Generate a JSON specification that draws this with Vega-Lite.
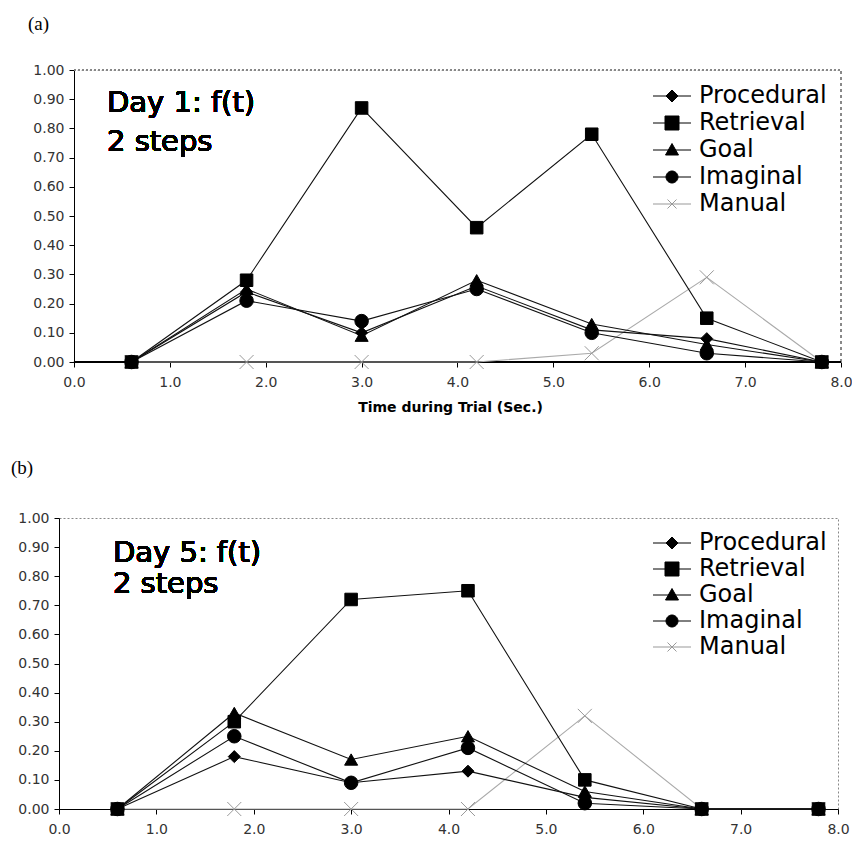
{
  "$schema": "https://vega.github.io/schema/vega-lite/v6.json",
  "padding": {"left": 10, "top": 15, "right": 0, "bottom": 0},
  "background": "white",
  "spacing": 44,
  "config": {
    "font": "DejaVu Sans",
    "view": {"stroke": "#888", "strokeDash": [2, 2], "strokeWidth": 1},
    "axis": {"grid": false, "domainColor": "black", "domainWidth": 1, "tickColor": "black", "tickSize": 5, "labelFont": "DejaVu Sans", "labelFontSize": 14, "labelColor": "#333", "titleFont": "DejaVu Sans", "labelOverlap": false},
    "title": {"font": "Liberation Serif", "fontSize": 19, "fontWeight": "normal", "anchor": "start", "frame": "group", "color": "black"}
  },
  "datasets": {
    "day1": [
      {"t": 0.6, "series": "Manual", "value": 0}, {"t": 1.8, "series": "Manual", "value": 0}, {"t": 3.0, "series": "Manual", "value": 0}, {"t": 4.2, "series": "Manual", "value": 0}, {"t": 5.4, "series": "Manual", "value": 0.03}, {"t": 6.6, "series": "Manual", "value": 0.29}, {"t": 7.8, "series": "Manual", "value": 0},
      {"t": 0.6, "series": "Imaginal", "value": 0}, {"t": 1.8, "series": "Imaginal", "value": 0.21}, {"t": 3.0, "series": "Imaginal", "value": 0.14}, {"t": 4.2, "series": "Imaginal", "value": 0.25}, {"t": 5.4, "series": "Imaginal", "value": 0.10}, {"t": 6.6, "series": "Imaginal", "value": 0.03}, {"t": 7.8, "series": "Imaginal", "value": 0},
      {"t": 0.6, "series": "Goal", "value": 0}, {"t": 1.8, "series": "Goal", "value": 0.25}, {"t": 3.0, "series": "Goal", "value": 0.09}, {"t": 4.2, "series": "Goal", "value": 0.28}, {"t": 5.4, "series": "Goal", "value": 0.13}, {"t": 6.6, "series": "Goal", "value": 0.06}, {"t": 7.8, "series": "Goal", "value": 0},
      {"t": 0.6, "series": "Procedural", "value": 0}, {"t": 1.8, "series": "Procedural", "value": 0.24}, {"t": 3.0, "series": "Procedural", "value": 0.10}, {"t": 4.2, "series": "Procedural", "value": 0.26}, {"t": 5.4, "series": "Procedural", "value": 0.11}, {"t": 6.6, "series": "Procedural", "value": 0.08}, {"t": 7.8, "series": "Procedural", "value": 0},
      {"t": 0.6, "series": "Retrieval", "value": 0}, {"t": 1.8, "series": "Retrieval", "value": 0.28}, {"t": 3.0, "series": "Retrieval", "value": 0.87}, {"t": 4.2, "series": "Retrieval", "value": 0.46}, {"t": 5.4, "series": "Retrieval", "value": 0.78}, {"t": 6.6, "series": "Retrieval", "value": 0.15}, {"t": 7.8, "series": "Retrieval", "value": 0}
    ],
    "day5": [
      {"t": 0.6, "series": "Manual", "value": 0}, {"t": 1.8, "series": "Manual", "value": 0}, {"t": 3.0, "series": "Manual", "value": 0}, {"t": 4.2, "series": "Manual", "value": 0}, {"t": 5.4, "series": "Manual", "value": 0.32}, {"t": 6.6, "series": "Manual", "value": 0}, {"t": 7.8, "series": "Manual", "value": 0},
      {"t": 0.6, "series": "Imaginal", "value": 0}, {"t": 1.8, "series": "Imaginal", "value": 0.25}, {"t": 3.0, "series": "Imaginal", "value": 0.09}, {"t": 4.2, "series": "Imaginal", "value": 0.21}, {"t": 5.4, "series": "Imaginal", "value": 0.02}, {"t": 6.6, "series": "Imaginal", "value": 0}, {"t": 7.8, "series": "Imaginal", "value": 0},
      {"t": 0.6, "series": "Goal", "value": 0}, {"t": 1.8, "series": "Goal", "value": 0.33}, {"t": 3.0, "series": "Goal", "value": 0.17}, {"t": 4.2, "series": "Goal", "value": 0.25}, {"t": 5.4, "series": "Goal", "value": 0.06}, {"t": 6.6, "series": "Goal", "value": 0}, {"t": 7.8, "series": "Goal", "value": 0},
      {"t": 0.6, "series": "Procedural", "value": 0}, {"t": 1.8, "series": "Procedural", "value": 0.18}, {"t": 3.0, "series": "Procedural", "value": 0.09}, {"t": 4.2, "series": "Procedural", "value": 0.13}, {"t": 5.4, "series": "Procedural", "value": 0.04}, {"t": 6.6, "series": "Procedural", "value": 0}, {"t": 7.8, "series": "Procedural", "value": 0},
      {"t": 0.6, "series": "Retrieval", "value": 0}, {"t": 1.8, "series": "Retrieval", "value": 0.30}, {"t": 3.0, "series": "Retrieval", "value": 0.72}, {"t": 4.2, "series": "Retrieval", "value": 0.75}, {"t": 5.4, "series": "Retrieval", "value": 0.10}, {"t": 6.6, "series": "Retrieval", "value": 0}, {"t": 7.8, "series": "Retrieval", "value": 0}
    ]
  },
  "vconcat": [
    {
      "title": {"text": "(a)", "dx": -31, "offset": 29},
      "width": 782,
      "height": 292,
      "view": {"stroke": null},
      "data": {"name": "day1"},
      "resolve": {"scale": {"shape": "independent", "stroke": "independent", "fill": "independent", "size": "independent"}},
      "layer": [
        {
          "mark": {"type": "rule", "stroke": "#888", "strokeDash": [2, 2], "strokeWidth": 1},
          "encoding": {"x": {"datum": 0, "type": "quantitative", "scale": {"domain": [-0.1564, 8], "nice": false, "zero": false}, "axis": {"values": [0, 1, 2, 3, 4, 5, 6, 7, 8], "tickCount": 20, "format": ".1f", "domain": false, "title": "Time during Trial (Sec.)", "titleFontSize": 14, "titleFontWeight": "bold", "titleColor": "black", "titlePadding": 11, "labelPadding": 8, "labelFlush": false, "labelOverlap": false}}, "x2": {"datum": 8}, "y": {"datum": 1, "type": "quantitative", "scale": {"domain": [0, 1], "nice": false}, "axis": {"values": [0, 0.1, 0.2, 0.3, 0.4, 0.5, 0.6, 0.7, 0.8, 0.9, 1], "tickCount": 20, "format": ".2f", "title": null, "offset": -15, "labelPadding": 5, "labelOverlap": false}}}
        },
        {
          "mark": {"type": "rule", "stroke": "#888", "strokeDash": [3, 3], "strokeWidth": 1},
          "encoding": {"x": {"datum": 8, "type": "quantitative"}, "y": {"datum": 0, "type": "quantitative"}, "y2": {"datum": 1}}
        },
        {
          "mark": {"type": "rule", "stroke": "black", "strokeWidth": 1},
          "encoding": {"x": {"datum": 0, "type": "quantitative"}, "x2": {"datum": 8}, "y": {"datum": 0, "type": "quantitative"}}
        },
        {
          "mark": {"type": "line", "strokeWidth": 1.1},
          "encoding": {
            "x": {"field": "t", "type": "quantitative"},
            "y": {"field": "value", "type": "quantitative"},
            "stroke": {"field": "series", "type": "nominal", "scale": {"domain": ["Procedural", "Retrieval", "Goal", "Imaginal", "Manual"], "range": ["#111", "#111", "#111", "#111", "#aaa"]}, "legend": null}
          }
        },
        {
          "mark": {"type": "point", "filled": true, "opacity": 1, "strokeWidth": 1},
          "encoding": {
            "x": {"field": "t", "type": "quantitative"},
            "y": {"field": "value", "type": "quantitative"},
            "shape": {"field": "series", "type": "nominal", "scale": {"domain": ["Procedural", "Retrieval", "Goal", "Imaginal", "Manual"], "range": ["diamond", "square", "triangle-up", "circle", "M-1,-1L1,1M1,-1L-1,1"]}, "legend": null},
            "fill": {"field": "series", "type": "nominal", "scale": {"domain": ["Procedural", "Retrieval", "Goal", "Imaginal", "Manual"], "range": ["#000", "#000", "#000", "#000", "#999"]}, "legend": null},
            "stroke": {"field": "series", "type": "nominal", "scale": {"domain": ["Procedural", "Retrieval", "Goal", "Imaginal", "Manual"], "range": ["#000", "#000", "#000", "#000", "#999"]}, "legend": null},
            "size": {"field": "series", "type": "nominal", "scale": {"domain": ["Procedural", "Retrieval", "Goal", "Imaginal", "Manual"], "range": [144, 196, 144, 144, 100]}, "legend": null}
          }
        },
        {
          "mark": {"type": "text", "text": "Day 1: f(t)", "align": "left", "baseline": "alphabetic", "fontSize": 29, "font": "DejaVu Sans", "color": "black"},
          "encoding": {"x": {"datum": 0.344, "type": "quantitative"}, "y": {"datum": 0.856, "type": "quantitative"}}
        },
        {
          "mark": {"type": "text", "text": "2 steps", "align": "left", "baseline": "alphabetic", "fontSize": 29, "font": "DejaVu Sans", "color": "black"},
          "encoding": {"x": {"datum": 0.344, "type": "quantitative"}, "y": {"datum": 0.723, "type": "quantitative"}}
        },
        {
          "mark": {"type": "point", "filled": true, "opacity": 0, "fill": "black"},
          "encoding": {
            "x": {"field": "t", "type": "quantitative"},
            "y": {"field": "value", "type": "quantitative"},
            "shape": {"field": "series", "type": "nominal", "scale": {"domain": ["Procedural", "Retrieval", "Goal", "Imaginal", "Manual"], "range": ["M-1.9,0H1.9M0,-0.6L0.6,0L0,0.6L-0.6,0Z", "M-1.9,0H1.9M-0.7,-0.7H0.7V0.7H-0.7Z", "M-1.9,0H1.9M0,-0.65L0.65,0.5H-0.65Z", "M-1.9,0H1.9M0.6,0A0.6,0.6,0,1,1,-0.6,0A0.6,0.6,0,1,1,0.6,0Z", "M-1.9,0H1.9M-0.45,-0.45L0.45,0.45M0.45,-0.45L-0.45,0.45"]}, "legend": {"title": null, "orient": "none", "legendX": 601, "legendY": 14, "symbolSize": 400, "symbolStrokeWidth": 1, "symbolOpacity": 1, "labelFont": "DejaVu Sans", "labelFontSize": 24, "labelColor": "black", "labelOffset": 15, "rowPadding": 3, "padding": 0, "labelLimit": 300}},
            "stroke": {"field": "series", "type": "nominal", "scale": {"domain": ["Procedural", "Retrieval", "Goal", "Imaginal", "Manual"], "range": ["#000", "#000", "#000", "#000", "#999"]}, "legend": {"title": null, "orient": "none", "legendX": 601, "legendY": 14, "symbolSize": 400, "symbolStrokeWidth": 1, "symbolOpacity": 1, "labelFont": "DejaVu Sans", "labelFontSize": 24, "labelColor": "black", "labelOffset": 15, "rowPadding": 3, "padding": 0, "labelLimit": 300}}
          }
        }
      ]
    },
    {
      "title": {"text": "(b)", "dx": -48, "offset": 33},
      "width": 779,
      "height": 291,
      "data": {"name": "day5"},
      "resolve": {"scale": {"shape": "independent", "stroke": "independent", "fill": "independent", "size": "independent"}},
      "layer": [
        {
          "mark": {"type": "line", "strokeWidth": 1.1},
          "encoding": {
            "x": {"field": "t", "type": "quantitative", "scale": {"domain": [0, 8], "nice": false, "zero": false}, "axis": {"values": [0, 1, 2, 3, 4, 5, 6, 7, 8], "tickCount": 20, "format": ".1f", "title": null, "labelPadding": 8, "labelFlush": false, "labelOverlap": false}},
            "y": {"field": "value", "type": "quantitative", "scale": {"domain": [0, 1], "nice": false}, "axis": {"values": [0, 0.1, 0.2, 0.3, 0.4, 0.5, 0.6, 0.7, 0.8, 0.9, 1], "tickCount": 20, "format": ".2f", "title": null, "labelPadding": 5, "labelOverlap": false}},
            "stroke": {"field": "series", "type": "nominal", "scale": {"domain": ["Procedural", "Retrieval", "Goal", "Imaginal", "Manual"], "range": ["#111", "#111", "#111", "#111", "#aaa"]}, "legend": null}
          }
        },
        {
          "mark": {"type": "point", "filled": true, "opacity": 1, "strokeWidth": 1},
          "encoding": {
            "x": {"field": "t", "type": "quantitative"},
            "y": {"field": "value", "type": "quantitative"},
            "shape": {"field": "series", "type": "nominal", "scale": {"domain": ["Procedural", "Retrieval", "Goal", "Imaginal", "Manual"], "range": ["diamond", "square", "triangle-up", "circle", "M-1,-1L1,1M1,-1L-1,1"]}, "legend": null},
            "fill": {"field": "series", "type": "nominal", "scale": {"domain": ["Procedural", "Retrieval", "Goal", "Imaginal", "Manual"], "range": ["#000", "#000", "#000", "#000", "#999"]}, "legend": null},
            "stroke": {"field": "series", "type": "nominal", "scale": {"domain": ["Procedural", "Retrieval", "Goal", "Imaginal", "Manual"], "range": ["#000", "#000", "#000", "#000", "#999"]}, "legend": null},
            "size": {"field": "series", "type": "nominal", "scale": {"domain": ["Procedural", "Retrieval", "Goal", "Imaginal", "Manual"], "range": [144, 196, 144, 144, 100]}, "legend": null}
          }
        },
        {
          "mark": {"type": "text", "text": "Day 5: f(t)", "align": "left", "baseline": "alphabetic", "fontSize": 29, "font": "DejaVu Sans", "color": "black"},
          "encoding": {"x": {"datum": 0.554, "type": "quantitative"}, "y": {"datum": 0.849, "type": "quantitative"}}
        },
        {
          "mark": {"type": "text", "text": "2 steps", "align": "left", "baseline": "alphabetic", "fontSize": 29, "font": "DejaVu Sans", "color": "black"},
          "encoding": {"x": {"datum": 0.554, "type": "quantitative"}, "y": {"datum": 0.742, "type": "quantitative"}}
        },
        {
          "mark": {"type": "point", "filled": true, "opacity": 0, "fill": "black"},
          "encoding": {
            "x": {"field": "t", "type": "quantitative"},
            "y": {"field": "value", "type": "quantitative"},
            "shape": {"field": "series", "type": "nominal", "scale": {"domain": ["Procedural", "Retrieval", "Goal", "Imaginal", "Manual"], "range": ["M-1.9,0H1.9M0,-0.6L0.6,0L0,0.6L-0.6,0Z", "M-1.9,0H1.9M-0.7,-0.7H0.7V0.7H-0.7Z", "M-1.9,0H1.9M0,-0.65L0.65,0.5H-0.65Z", "M-1.9,0H1.9M0.6,0A0.6,0.6,0,1,1,-0.6,0A0.6,0.6,0,1,1,0.6,0Z", "M-1.9,0H1.9M-0.45,-0.45L0.45,0.45M0.45,-0.45L-0.45,0.45"]}, "legend": {"title": null, "orient": "none", "legendX": 601, "legendY": 13, "symbolSize": 400, "symbolStrokeWidth": 1, "symbolOpacity": 1, "labelFont": "DejaVu Sans", "labelFontSize": 24, "labelColor": "black", "labelOffset": 15, "rowPadding": 2, "padding": 0, "labelLimit": 300}},
            "stroke": {"field": "series", "type": "nominal", "scale": {"domain": ["Procedural", "Retrieval", "Goal", "Imaginal", "Manual"], "range": ["#000", "#000", "#000", "#000", "#999"]}, "legend": {"title": null, "orient": "none", "legendX": 601, "legendY": 13, "symbolSize": 400, "symbolStrokeWidth": 1, "symbolOpacity": 1, "labelFont": "DejaVu Sans", "labelFontSize": 24, "labelColor": "black", "labelOffset": 15, "rowPadding": 2, "padding": 0, "labelLimit": 300}}
          }
        }
      ]
    }
  ]
}
